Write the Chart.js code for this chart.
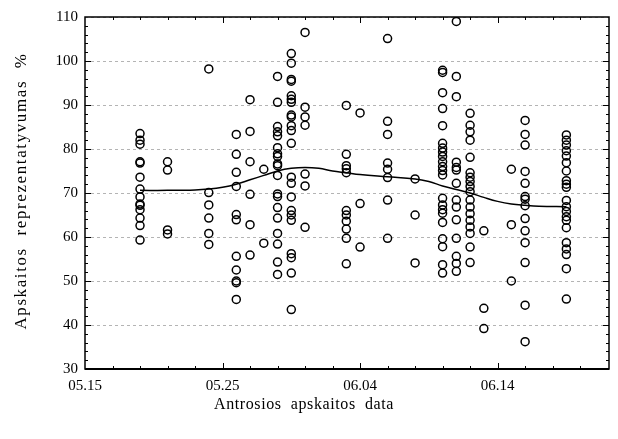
<!DOCTYPE html>
<html>
<head>
<meta charset="utf-8">
<script src="https://cdn.jsdelivr.net/npm/chart.js@4"></script>
<style>
  html, body { margin: 0; padding: 0; background: #fff; }
  #wrap { width: 618px; height: 439px; }
</style>
</head>
<body>
<div id="wrap"><canvas id="myChart"></canvas></div>
<script>
// days counted from 05.15
const tickDays = [0, 10, 20, 30];
const tickLabels = ['05.15', '05.25', '06.04', '06.14'];
const xTitle = 'Antrosios  apskaitos  data';
const yTitle = 'Apskaitos  reprezentatyvumas  %';

const sampleDays = [4, 6, 9, 11, 12, 13, 14, 15, 16, 19, 20, 22, 24, 26, 27, 28, 29, 31, 32, 35];
const day04 = [83.5, 82.0, 81.1, 77.1, 76.8, 73.6, 70.9, 69.1, 67.5, 67.2, 66.2, 64.3, 62.6, 59.3];
const day06 = [77.1, 75.2, 61.6, 60.7];
const day09 = [98.2, 70.1, 67.3, 64.3, 60.8, 58.3];
const day11 = [83.3, 78.8, 74.7, 71.5, 65.1, 63.9, 55.6, 52.5, 50.0, 49.6, 45.8];
const day12 = [91.2, 84.0, 77.1, 69.7, 62.8, 55.9];
const day13 = [75.4, 58.6];
const day14 = [96.5, 90.6, 85.1, 83.9, 83.0, 80.3, 78.9, 78.3, 76.6, 76.2, 74.0, 69.8, 69.2, 66.7, 64.3, 60.8, 58.4, 54.3, 51.5];
const day15 = [101.7, 99.5, 95.8, 95.4, 92.1, 91.3, 90.6, 87.7, 87.3, 85.3, 84.2, 81.3, 73.6, 72.2, 69.1, 66.0, 65.0, 63.8, 56.2, 55.3, 51.8, 43.5];
const day16 = [106.5, 89.5, 87.3, 85.4, 74.3, 71.6, 62.2];
const day19 = [89.9, 78.8, 76.2, 75.5, 74.6, 66.0, 65.0, 63.6, 61.8, 59.7, 53.9];
const day20 = [88.2, 67.6, 57.7];
const day22 = [105.1, 86.3, 83.3, 76.8, 75.4, 73.5, 68.4, 59.7];
const day24 = [73.2, 65.0, 54.1];
const day26 = [97.9, 97.4, 92.8, 89.2, 85.3, 81.3, 80.2, 79.3, 78.3, 77.1, 76.0, 75.1, 74.1, 68.8, 67.3, 66.2, 65.4, 63.3, 59.6, 57.8, 53.7, 51.8];
const day27 = [109.0, 96.5, 91.9, 77.0, 75.8, 75.2, 72.2, 68.4, 66.8, 63.9, 59.7, 55.6, 54.0, 52.2];
const day28 = [88.1, 85.4, 83.9, 82.0, 78.1, 74.6, 73.6, 72.6, 71.5, 70.3, 68.4, 66.8, 65.3, 63.8, 62.3, 60.8, 57.7, 54.2];
const day29 = [61.4, 43.8, 39.2];
const day31 = [75.4, 62.8, 50.0];
const day32 = [86.5, 83.3, 80.9, 74.9, 72.2, 69.2, 68.6, 67.1, 64.2, 61.4, 58.7, 54.2, 44.5, 36.2];
const day35 = [83.2, 82.0, 80.9, 79.6, 78.4, 76.9, 75.0, 72.8, 72.0, 71.3, 68.3, 66.9, 65.8, 64.6, 63.8, 62.1, 58.7, 57.3, 56.0, 52.8, 45.9];
const sampleValues = [day04, day06, day09, day11, day12, day13, day14, day15, day16, day19, day20, day22, day24, day26, day27, day28, day29, day31, day32, day35];

// smoothed curve
const trendDays = [4, 6, 8, 9, 10, 11, 12, 13, 14, 15, 16, 17, 18, 19, 20, 22, 24, 25, 26, 27, 28, 29, 30, 31, 32, 33, 35];
const trendValues = [70.6, 70.6, 70.7, 70.9, 71.3, 72.0, 73.0, 74.0, 75.0, 75.6, 75.8, 75.6, 75.0, 74.6, 74.2, 73.7, 73.2, 72.6, 71.6, 70.8, 70.0, 69.0, 68.1, 67.5, 67.2, 67.0, 66.9];

const points = [];
sampleDays.forEach((d, i) => sampleValues[i].forEach(v => points.push({x: d, y: v})));
const trend = trendDays.map((d, i) => ({x: d, y: trendValues[i]}));

const serif = "'Liberation Serif', 'DejaVu Serif', serif";

// box round the plot with short ticks pointing inwards, plus axis titles
const frame = {
    id: 'frame',
    afterDraw(chart) {
        const ctx = chart.ctx;
        const a = chart.chartArea;
        const xs = chart.scales.x, ys = chart.scales.y;
        ctx.save();
        ctx.strokeStyle = '#000';
        ctx.lineWidth = 1;
        ctx.beginPath();
        for (let v = 32; v < 110; v += 2) {
            const y = Math.round(ys.getPixelForValue(v)) + 0.5;
            const len = v % 10 === 0 ? 6 : 3;
            ctx.moveTo(a.left, y); ctx.lineTo(a.left + len, y);
            ctx.moveTo(a.right, y); ctx.lineTo(a.right - len, y);
        }
        for (let d = 2; d < 38; d += 2) {
            const x = Math.round(xs.getPixelForValue(d)) + 0.5;
            const len = d % 10 === 0 ? 6 : 3;
            ctx.moveTo(x, a.bottom); ctx.lineTo(x, a.bottom - len);
            ctx.moveTo(x, a.top); ctx.lineTo(x, a.top + len);
        }
        ctx.stroke();
        ctx.lineWidth = 1.5;
        ctx.strokeRect(a.left, a.top, a.right - a.left, a.bottom - a.top);
        ctx.lineWidth = 2;
        ctx.beginPath();
        ctx.moveTo(a.left, a.bottom); ctx.lineTo(a.right, a.bottom);
        ctx.stroke();

        ctx.fillStyle = '#000';
        ctx.textAlign = 'center';
        ctx.textBaseline = 'middle';
        ctx.font = '16px ' + serif;
        ctx.letterSpacing = '0.6px';
        ctx.fillText(xTitle, 304, 405);
        ctx.translate(22, 191);
        ctx.rotate(-Math.PI / 2);
        ctx.font = '17px ' + serif;
        ctx.letterSpacing = '1.6px';
        ctx.fillText(yTitle, 0, 0);
        ctx.restore();
    }
};

let ctx = document.getElementById('myChart').getContext('2d');
let myChart = new Chart(ctx, {
    type: 'scatter',
    data: {
        datasets: [{
            label: 'Apskaitos',
            data: points,
            pointRadius: 4,
            pointHoverRadius: 4,
            pointBorderWidth: 1.5,
            pointBorderColor: '#000',
            pointBackgroundColor: 'rgba(0,0,0,0)'
        }, {
            type: 'line',
            label: 'Trend',
            data: trend,
            showLine: true,
            borderColor: '#000',
            borderWidth: 1.5,
            pointRadius: 0,
            tension: 0.4,
            fill: false
        }]
    },
    options: {
        responsive: true,
        maintainAspectRatio: false,
        animation: false,
        events: [],
        layout: { padding: { top: 17, right: 9, left: 0, bottom: 0 } },
        plugins: {
            legend: { display: false },
            tooltip: { enabled: false }
        },
        scales: {
            x: {
                type: 'linear',
                min: 0,
                max: 38.1,
                afterFit: s => { s.height = 70; },
                afterBuildTicks: s => { s.ticks = tickDays.map(v => ({value: v})); },
                grid: { display: false, drawTicks: false },
                border: { display: false },
                ticks: {
                    padding: 8,
                    color: '#000',
                    font: { family: serif, size: 15 },
                    maxRotation: 0,
                    callback: v => tickLabels[tickDays.indexOf(v)]
                }
            },
            y: {
                min: 30,
                max: 110,
                afterFit: s => { s.width = 85; },
                grid: {
                    color: '#b4b4b4',
                    lineWidth: 1,
                    drawTicks: false
                },
                border: { display: false, dash: [3, 3] },
                ticks: {
                    stepSize: 10,
                    padding: 7,
                    color: '#000',
                    font: { family: serif, size: 15 }
                }
            }
        }
    },
    plugins: [frame]
});
</script>
</body>
</html>
